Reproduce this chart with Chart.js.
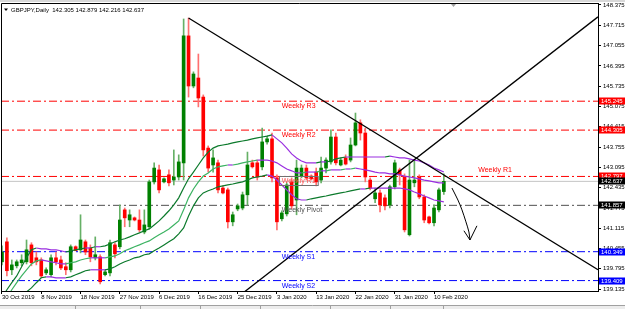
<!DOCTYPE html>
<html><head><meta charset="utf-8">
<script src="https://cdn.jsdelivr.net/npm/chart.js@4.4.0/dist/chart.umd.min.js"></script>
<style>html,body{margin:0;padding:0;background:#fff;}canvas{display:block;}</style>
</head><body>
<canvas id="c" width="625" height="309"></canvas>
<script>
const symbol = 'GBPJPY,Daily';
const dates = ['30 Oct 2019','31 Oct 2019','1 Nov 2019','3 Nov 2019','4 Nov 2019','5 Nov 2019','6 Nov 2019','7 Nov 2019','8 Nov 2019','10 Nov 2019',
'11 Nov 2019','12 Nov 2019','13 Nov 2019','14 Nov 2019','15 Nov 2019','17 Nov 2019','18 Nov 2019','19 Nov 2019','20 Nov 2019','21 Nov 2019',
'22 Nov 2019','24 Nov 2019','25 Nov 2019','26 Nov 2019','27 Nov 2019','28 Nov 2019','29 Nov 2019','1 Dec 2019','2 Dec 2019','3 Dec 2019',
'4 Dec 2019','5 Dec 2019','6 Dec 2019','8 Dec 2019','9 Dec 2019','10 Dec 2019','11 Dec 2019','12 Dec 2019','13 Dec 2019','15 Dec 2019',
'16 Dec 2019','17 Dec 2019','18 Dec 2019','19 Dec 2019','20 Dec 2019','22 Dec 2019','23 Dec 2019','24 Dec 2019','25 Dec 2019','26 Dec 2019',
'27 Dec 2019','29 Dec 2019','30 Dec 2019','31 Dec 2019','1 Jan 2020','2 Jan 2020','3 Jan 2020','5 Jan 2020','6 Jan 2020','7 Jan 2020',
'8 Jan 2020','9 Jan 2020','10 Jan 2020','12 Jan 2020','13 Jan 2020','14 Jan 2020','15 Jan 2020','16 Jan 2020','17 Jan 2020','19 Jan 2020',
'20 Jan 2020','21 Jan 2020','22 Jan 2020','23 Jan 2020','24 Jan 2020','26 Jan 2020','27 Jan 2020','28 Jan 2020','29 Jan 2020','30 Jan 2020',
'31 Jan 2020','2 Feb 2020','3 Feb 2020','4 Feb 2020','5 Feb 2020','6 Feb 2020','7 Feb 2020','9 Feb 2020','10 Feb 2020','11 Feb 2020',
'12 Feb 2020'];
const opens = [140.02,140.67,139.76,139.89,139.99,140.02,140.57,140.15,140.08,139.66,
139.60,140.15,140.08,139.86,139.76,140.51,140.41,140.67,140.47,140.15,
140.18,139.60,139.66,140.57,140.51,141.71,141.38,141.45,141.38,140.99,
141.16,142.62,143.01,142.62,142.85,142.68,142.78,143.24,147.37,145.74,
146.00,145.38,143.72,143.17,143.24,142.42,142.36,141.32,141.74,141.77,
142.20,143.24,143.24,143.11,143.92,144.02,142.75,141.42,141.58,142.62,
142.03,142.81,143.07,142.81,142.94,142.68,143.07,143.27,144.08,143.17,
143.40,143.33,143.82,144.54,144.21,142.68,142.07,142.26,142.10,141.87,
142.46,143.01,142.78,140.90,142.59,142.78,142.13,141.48,141.29,141.71,
142.305];
const highs = [140.54,140.80,140.08,140.08,140.25,140.73,140.64,140.34,140.15,139.82,
140.25,140.34,140.21,139.99,140.57,140.54,141.55,140.73,140.57,140.83,
140.25,139.76,140.73,140.64,141.87,141.77,141.71,141.48,141.71,141.71,
142.68,143.24,143.17,142.75,143.01,143.66,143.50,147.92,147.95,146.20,
146.78,145.45,143.79,143.66,143.33,142.49,142.42,141.64,141.90,142.29,
143.59,143.33,143.33,144.37,144.11,144.21,142.85,141.68,142.59,142.75,
143.33,143.17,143.17,142.85,143.07,143.43,143.40,144.31,144.21,143.40,
143.50,144.05,144.86,144.64,144.37,142.75,142.42,142.36,142.20,142.52,
143.33,143.07,142.88,143.33,143.33,142.85,142.20,141.51,141.87,142.42,
142.879];
const lows = [139.92,139.56,139.60,139.82,139.89,139.95,139.89,139.92,139.50,139.60,
139.53,139.92,139.76,139.60,139.69,140.38,140.31,140.25,140.02,140.08,
139.30,139.56,139.56,140.15,140.44,141.16,141.16,141.35,140.99,140.93,
141.09,142.55,142.26,142.59,142.49,142.52,142.68,142.68,145.38,145.68,
145.06,143.46,142.94,142.94,142.26,142.23,141.12,141.19,141.68,141.71,
141.87,143.07,142.68,143.01,143.85,142.62,141.06,141.35,141.51,141.74,
141.55,142.75,142.68,142.68,142.49,142.59,142.91,143.20,143.17,143.14,
143.17,143.27,143.79,143.98,142.62,142.36,141.94,141.64,141.71,141.77,
142.39,142.52,140.99,140.86,142.46,142.07,141.29,141.25,141.19,141.64,
142.216];
const closes = [140.34,139.73,139.92,140.02,140.08,140.41,139.99,140.02,139.56,139.76,
140.15,140.02,139.82,139.76,140.51,140.38,140.73,140.34,140.18,140.25,
139.37,139.69,140.64,140.28,141.38,141.45,141.55,141.38,141.06,141.22,
142.62,143.07,142.36,142.72,142.59,142.78,143.27,147.37,145.74,146.13,
145.35,143.66,143.07,143.40,142.36,142.26,141.32,141.55,141.84,142.20,
143.17,143.11,142.78,143.92,144.02,142.75,141.32,141.61,142.52,141.84,
143.07,143.07,142.75,142.72,142.62,143.07,143.33,144.08,143.24,143.33,
143.20,143.82,144.54,144.21,142.78,142.42,142.26,141.87,141.84,142.46,
143.24,142.85,141.06,142.68,142.68,142.13,141.38,141.29,141.77,142.36,
142.637];
const bandUpper = [138.85,139.11,139.34,139.56,139.86,140.15,140.41,140.47,140.44,140.44,
140.41,140.41,140.38,140.34,140.38,140.41,140.44,140.47,140.47,140.51,
140.51,140.54,140.60,140.67,140.73,140.77,140.83,140.90,140.96,141.03,
141.09,141.22,141.35,141.51,141.68,141.87,142.10,142.42,142.72,142.94,
143.17,143.40,143.59,143.72,143.79,143.82,143.85,143.89,143.92,143.95,
143.98,144.02,144.05,144.08,144.11,144.15,144.02,143.89,143.72,143.53,
143.40,143.30,143.24,143.24,143.24,143.27,143.27,143.30,143.37,143.40,
143.43,143.43,143.43,143.43,143.43,143.43,143.43,143.43,143.43,143.46,
143.43,143.40,143.40,143.37,143.33,143.30,143.24,143.17,143.07,143.01,
142.94];
const bandMid = [138.62,138.85,139.11,139.34,139.56,139.76,139.95,140.05,140.08,140.05,
140.02,139.99,139.95,139.95,139.99,140.02,140.08,140.12,140.15,140.15,
140.15,140.15,140.18,140.21,140.28,140.38,140.44,140.51,140.57,140.64,
140.70,140.80,140.90,140.99,141.09,141.22,141.35,141.71,142.10,142.39,
142.62,142.81,142.91,143.04,143.11,143.14,143.17,143.17,143.20,143.24,
143.27,143.30,143.33,143.33,143.33,143.30,143.24,143.14,143.04,142.98,
142.91,142.91,142.94,142.94,142.94,142.98,142.98,143.01,143.01,143.01,
143.04,143.04,143.07,143.04,143.01,142.98,142.94,142.91,142.91,142.88,
142.88,142.85,142.81,142.78,142.75,142.72,142.68,142.65,142.62,142.59,
142.59];
const bandLower = [138.20,138.39,138.59,138.75,138.88,139.04,139.17,139.34,139.50,139.53,
139.53,139.50,139.50,139.50,139.53,139.60,139.66,139.73,139.76,139.76,
139.76,139.76,139.79,139.86,139.95,140.02,140.08,140.15,140.18,140.25,
140.28,140.38,140.47,140.57,140.67,140.77,140.93,141.12,141.51,141.84,
142.10,142.26,142.33,142.39,142.46,142.49,142.52,142.55,142.59,142.62,
142.68,142.75,142.78,142.81,142.85,142.81,142.68,142.52,142.36,142.20,
142.07,142.03,142.03,142.07,142.10,142.13,142.16,142.20,142.23,142.26,
142.29,142.33,142.36,142.39,142.39,142.42,142.42,142.42,142.42,142.42,
142.42,142.42,142.39,142.36,142.29,142.23,142.16,142.10,142.03,142.00,
141.97];
const levelNames  = ['Weekly R3','Weekly R2','Weekly R1','Weekly Pivot','Weekly S1','Weekly S2'];
const levelValues = [145.245, 144.305, 142.797, 141.857, 140.349, 139.409];
const levelColors = ['#ff0000','#ff0000','#ff0000','#505050','#0000ff','#0000ff'];
const levelBoxColors = ['#ff0000','#ff0000','#ff0000','#000000','#0000ff','#0000ff'];
const currentPrice = 142.637;
const priceTicks = [139.135,139.795,140.455,141.115,141.775,142.435,143.095,143.755,144.415,145.075,145.735,146.395,147.055,147.715,148.375];
const dateTickIndex = [0,8,16,24,32,40,48,56,64,72,80,88];
const trendDown = [[38,147.95],[121.4,139.76]];
const trendUp = [[48,138.87],[121.4,147.99]];
const arrowPath = [[91.65,142.42],[92.87,142.03],[93.69,141.71],[94.5,141.32],[95.11,140.99],[95.32,140.73]];
const arrowHead = [[94.09,141.03],[95.32,140.73],[96.74,141.19]];
const X_MIN = -0.2, X_MAX = 121.4, Y_MIN = 139.07, Y_MAX = 148.44;

const FONT = '"Liberation Sans", Arial, sans-serif';
const idx = dates.map((d,i)=>i);
const isUp = idx.map(i => closes[i] >= opens[i]);
const bodyData = idx.map(i => ({x:i, y:[opens[i], closes[i]]}));
const wickData = idx.map(i => ({x:i, y:[lows[i], highs[i]]}));
const toXY = arr => arr.map(p => ({x:p[0], y:p[1]}));
const bandDS = (vals, col, w) => ({
  type:'line', data: idx.map(i=>({x:i,y:vals[i]})), borderColor: col, borderWidth: w,
  pointRadius:0, tension:0, order:1, clip:0,
  segment:{ borderColor: c => (c.p1.parsed.y > c.p0.parsed.y ? col : '#9a2fe0') }
});
const levelDS = levelValues.map((v,k)=>({
  type:'line', data:[{x:X_MIN,y:v},{x:X_MAX,y:v}], borderColor: levelColors[k], borderWidth:1,
  borderDash:[8,3,2,3], pointRadius:0, order:20, clip:0
}));

const overlay = {
  id:'overlay',
  beforeDraw(chart){
    const c = chart.ctx; c.save(); c.fillStyle='#fff'; c.fillRect(0,0,chart.width,chart.height); c.restore();
  },
  afterDatasetsDraw(chart){
    const {ctx, scales:{x,y}} = chart;
    ctx.save();
    ctx.font = '7px ' + FONT;
    ctx.textBaseline = 'middle';
    ctx.textAlign = 'left';
    const lx = x.getPixelForValue(57);
    levelNames.forEach((n,k)=>{
      const py = y.getPixelForValue(levelValues[k]);
      ctx.fillStyle = levelColors[k];
      if (k === 2) {
        ctx.fillText(n, x.getPixelForValue(97), py - 6);
        const w = ctx.measureText(n).width;
        ctx.strokeStyle = '#707070'; ctx.lineWidth = 1;
        ctx.strokeRect(Math.round(lx)-2.5, Math.round(py)+0.5, w+5, 9);
        ctx.fillStyle = '#ff5050';
        ctx.fillText(n, lx, py + 5);
      } else {
        ctx.fillText(n, lx, py + 5);
      }
    });
    ctx.restore();
  },
  afterDraw(chart){
    const {ctx, scales:{x,y}, chartArea:a} = chart;
    ctx.save();
    ctx.strokeStyle = '#000'; ctx.lineWidth = 1;
    ctx.beginPath(); ctx.moveTo(a.left+0.5, a.bottom); ctx.lineTo(a.left+0.5, a.top+0.5); ctx.lineTo(a.right, a.top+0.5); ctx.stroke();
    ctx.fillStyle = '#d8d8d8'; ctx.fillRect(0,0,625,2);
    ctx.fillStyle = '#000';
    ctx.beginPath(); ctx.moveTo(4,8.5); ctx.lineTo(8,8.5); ctx.lineTo(6,11); ctx.closePath(); ctx.fill();
    ctx.font = '6px ' + FONT; ctx.textBaseline = 'middle'; ctx.textAlign = 'left';
    const n = closes.length - 1;
    ctx.fillText(symbol + '  ' + opens[n].toFixed(3) + ' ' + highs[n].toFixed(3) + ' ' + lows[n].toFixed(3) + ' ' + closes[n].toFixed(3), 11, 10);
    ctx.fillStyle = '#a0a0a0';
    ctx.beginPath(); ctx.moveTo(451,4); ctx.lineTo(456,4); ctx.lineTo(453.5,7); ctx.closePath(); ctx.fill();
    const boxes = levelValues.map((v,k)=>[v, levelBoxColors[k]]);
    boxes.splice(3,0,[currentPrice,'#000000']);
    boxes.forEach(([v,col])=>{
      const py = y.getPixelForValue(v);
      ctx.fillStyle = col; ctx.fillRect(a.right+1, Math.round(py)-3.5, 26, 7);
      ctx.fillStyle = '#fff'; ctx.font = '6px ' + FONT;
      ctx.fillText(v.toFixed(3), a.right+3, Math.round(py));
    });
    ctx.fillStyle = '#ececec'; ctx.fillRect(0,305,625,4);
    ctx.strokeStyle = '#a0a0a0';
    ctx.beginPath(); ctx.moveTo(0,305.5); ctx.lineTo(625,305.5); ctx.stroke();
    [75,140,200,260,330,390,443].forEach(px=>{ctx.beginPath(); ctx.moveTo(px+0.5,305); ctx.lineTo(px+0.5,309); ctx.stroke();});
    ctx.restore();
  }
};

new Chart(document.getElementById('c'), {
  data: {
    datasets: [
      ...levelDS,
      { type:'line', data:[{x:X_MIN,y:currentPrice},{x:X_MAX,y:currentPrice}], borderColor:'#c4c4c4', borderWidth:1, pointRadius:0, order:19, clip:0 },
      { type:'bar', data: wickData, backgroundColor: idx.map(i=>isUp[i]?'#66b066':'#ff7070'), barThickness:1, grouped:false, order:4 },
      { type:'bar', data: bodyData, backgroundColor: idx.map(i=>isUp[i]?'#008000':'#ff0000'), barThickness:3, minBarLength:1, grouped:false, order:3 },
      bandDS(bandUpper,'#0c7a2c',1.2),
      bandDS(bandMid,'#3cb362',1.2),
      bandDS(bandLower,'#0c7a2c',1.2),
      { type:'line', data: toXY(trendDown), borderColor:'#000', borderWidth:1.3, pointRadius:0, order:0, clip:0 },
      { type:'line', data: toXY(trendUp), borderColor:'#000', borderWidth:1.3, pointRadius:0, order:0, clip:0 },
      { type:'line', data: toXY(arrowPath), borderColor:'#000', borderWidth:1, pointRadius:0, tension:0.3, order:0, clip:0 },
      { type:'line', data: toXY(arrowHead), borderColor:'#000', borderWidth:1, pointRadius:0, order:0, clip:0 }
    ]
  },
  options: {
    responsive:false, animation:false, devicePixelRatio:1,
    layout:{ padding:{ left:1, top:3, right:0, bottom:0 } },
    plugins:{ legend:{display:false}, tooltip:{enabled:false} },
    scales:{
      x:{ type:'linear', min:X_MIN, max:X_MAX, position:'bottom', offset:false,
        afterBuildTicks: s => { s.ticks = dateTickIndex.map(v=>({value:v})); },
        afterFit: s => { s.height = 18; s.paddingLeft = 0; s.paddingRight = 0; },
        ticks:{ autoSkip:false, maxRotation:0, align:'start', padding:0, color:'#000', font:{family:FONT, size:6, lineHeight:1}, callback: v => dates[v] },
        grid:{ offset:false, drawOnChartArea:false, drawTicks:true, tickLength:3, color:'#000' },
        border:{ display:true, color:'#000' } },
      y:{ type:'linear', min:Y_MIN, max:Y_MAX, position:'right',
        afterBuildTicks: s => { s.ticks = priceTicks.map(v=>({value:v})); },
        afterFit: s => { s.width = 27; s.paddingTop = 0; s.paddingBottom = 0; },
        ticks:{ autoSkip:false, padding:2, color:'#000', font:{family:FONT, size:6, lineHeight:1}, callback: v => v.toFixed(3) },
        grid:{ drawOnChartArea:false, drawTicks:true, tickLength:3, color:'#000' },
        border:{ display:true, color:'#000' } }
    }
  },
  plugins:[overlay]
});
</script>
</body></html>
